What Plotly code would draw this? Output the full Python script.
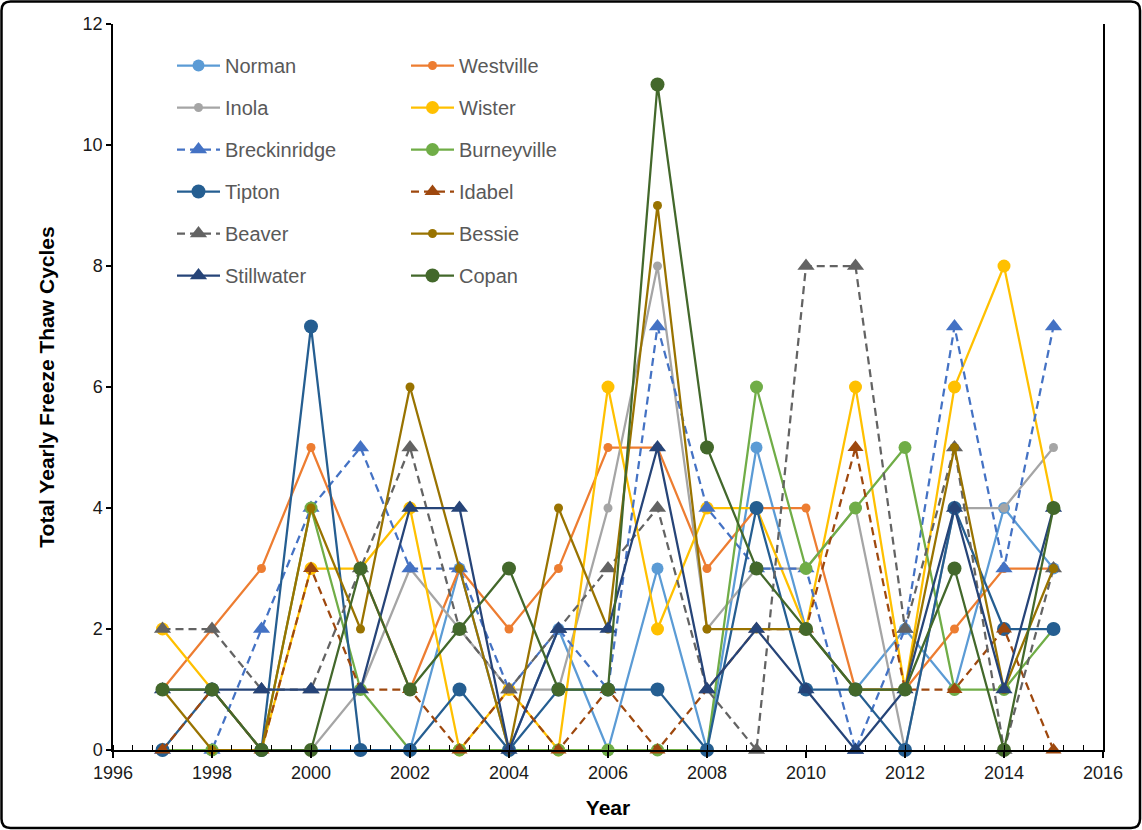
import plotly.graph_objects as go

years = list(range(1997, 2016))

norman       = [0, 0, 0, 0, 0, 0, 3, 0, 2, 0, 3, 0, 5, 2, 1, 2, 1, 4, 3]
westville    = [1, 2, 3, 5, 3, 1, 3, 2, 3, 5, 5, 3, 4, 4, 1, 1, 2, 3, 3]
inola        = [0, 0, 0, 0, 1, 3, 2, 1, 1, 4, 8, 2, 3, 3, 4, 0, 4, 4, 5]
wister       = [2, 1, 0, 3, 3, 4, 0, 1, 0, 6, 2, 4, 4, 2, 6, 1, 6, 8, 4]
breckinridge = [0, 0, 2, 4, 5, 3, 3, 1, 2, 1, 7, 4, 3, 3, 0, 2, 7, 3, 7]
burneyville  = [0, 0, 0, 4, 1, 0, 0, 0, 0, 0, 0, 0, 6, 3, 4, 5, 1, 1, 2]
tipton       = [0, 1, 0, 7, 0, 0, 1, 0, 1, 1, 1, 0, 4, 1, 1, 0, 4, 2, 2]
idabel       = [0, 1, 0, 3, 1, 1, 0, 1, 0, 1, 0, 1, 2, 2, 5, 1, 1, 2, 0]
beaver       = [2, 2, 1, 1, 3, 5, 2, 1, 2, 3, 4, 1, 0, 8, 8, 2, 5, 0, 3]
bessie       = [1, 0, 0, 4, 2, 6, 3, 0, 4, 2, 9, 2, 2, 2, 1, 1, 5, 1, 3]
stillwater   = [1, 1, 1, 1, 1, 4, 4, 0, 2, 2, 5, 1, 2, 1, 0, 1, 4, 1, 4]
copan        = [1, 1, 0, 0, 3, 1, 2, 3, 1, 1, 11, 5, 3, 2, 1, 1, 3, 0, 4]

x_ticks = list(range(1996, 2017, 2))
y_ticks = list(range(0, 13, 2))

# (name, values, color, symbol, marker size, dashed, legend column)
series = [
    ("Norman", norman, "#5B9BD5", "circle", 12, False, "legend"),
    ("Westville", westville, "#ED7D31", "circle", 9, False, "legend2"),
    ("Inola", inola, "#A5A5A5", "circle", 9, False, "legend"),
    ("Wister", wister, "#FFC000", "circle", 13, False, "legend2"),
    ("Breckinridge", breckinridge, "#4472C4", "triangle-up", 15, True, "legend"),
    ("Burneyville", burneyville, "#70AD47", "circle", 13, False, "legend2"),
    ("Tipton", tipton, "#255E91", "circle", 14, False, "legend"),
    ("Idabel", idabel, "#9E480E", "triangle-up", 14, True, "legend2"),
    ("Beaver", beaver, "#636363", "triangle-up", 15, True, "legend"),
    ("Bessie", bessie, "#997300", "circle", 9, False, "legend2"),
    ("Stillwater", stillwater, "#264478", "triangle-up", 15, False, "legend"),
    ("Copan", copan, "#43682B", "circle", 14, False, "legend2"),
]

fig = go.Figure()
for name, vals, color, symbol, size, dashed, leg in series:
    fig.add_trace(go.Scatter(
        x=years, y=vals, name=name, mode="lines+markers",
        line=dict(color=color, width=2.25, dash="8px,5px" if dashed else "solid"),
        marker=dict(color=color, symbol=symbol, size=size),
        cliponaxis=False, legend=leg, legendgroup=name,
    ))

W, H = 1142, 830
L, R, T, B = 113, 1103, 24, 750


def px(x):
    return (x - L) / (R - L)


def py(y):
    return (B - y) / (B - T)


# rounded outer frame
x0, x1, y0, y1, r = 1.5, 1140, 1.5, 828, 9
frame = (
    f"M{px(x0 + r)},{py(y0)} L{px(x1 - r)},{py(y0)} Q{px(x1)},{py(y0)} {px(x1)},{py(y0 + r)} "
    f"L{px(x1)},{py(y1 - r)} Q{px(x1)},{py(y1)} {px(x1 - r)},{py(y1)} "
    f"L{px(x0 + r)},{py(y1)} Q{px(x0)},{py(y1)} {px(x0)},{py(y1 - r)} "
    f"L{px(x0)},{py(y0 + r)} Q{px(x0)},{py(y0)} {px(x0 + r)},{py(y0)} Z"
)

font_family = "Liberation Sans, Arial, sans-serif"
legend_common = dict(
    orientation="v", xanchor="left", yanchor="top",
    font=dict(family=font_family, size=20, color="#595959"),
    bgcolor="rgba(0,0,0,0)", tracegroupgap=13, itemwidth=43,
)

fig.update_layout(
    width=W, height=H,
    margin=dict(l=L, r=W - R, t=T, b=H - B),
    paper_bgcolor="white", plot_bgcolor="white",
    showlegend=True,
    legend=dict(x=px(172), y=py(46), **legend_common),
    legend2=dict(x=px(406), y=py(46), **legend_common),
    xaxis=dict(
        range=[1996, 2016], tickmode="array", tickvals=x_ticks,
        showgrid=False, zeroline=False, showline=True, linecolor="black", linewidth=1.5,
        ticks="outside", ticklen=6, tickcolor="black", tickwidth=1.5,
        minor=dict(ticks="inside", dtick=0.4, tick0=1996, ticklen=5, tickcolor="black", tickwidth=1),
        tickfont=dict(family=font_family, size=18, color="#1a1a1a"),
        title=dict(text="<b>Year</b>", font=dict(family=font_family, size=21, color="black"), standoff=18),
    ),
    xaxis2=dict(
        range=[1996, 2016], overlaying="x", anchor="y", side="bottom",
        tickmode="array", tickvals=x_ticks, showticklabels=False,
        showgrid=False, zeroline=False, showline=False,
        ticks="inside", ticklen=6, tickcolor="black", tickwidth=1.5,
    ),
    yaxis=dict(
        range=[0, 12], tickmode="array", tickvals=y_ticks,
        showgrid=False, zeroline=False, showline=True, linecolor="black", linewidth=1.5,
        mirror=True,
        ticks="outside", ticklen=5, tickcolor="black", tickwidth=1.5,
        tickfont=dict(family=font_family, size=18, color="#1a1a1a"),
        title=dict(text="<b>Total Yearly Freeze Thaw Cycles</b>",
                   font=dict(family=font_family, size=21, color="black"), standoff=22),
    ),
    shapes=[dict(type="path", xref="paper", yref="paper", path=frame,
                 line=dict(color="black", width=2.5), fillcolor="rgba(0,0,0,0)")],
)

fig.write_html("out.html")
